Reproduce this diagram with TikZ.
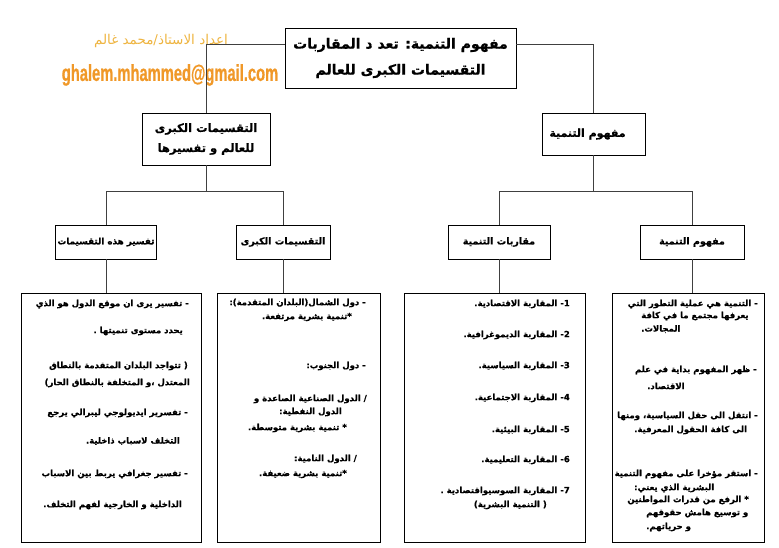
\documentclass[tikz,border=0pt]{standalone}
\usepackage{fontspec}
\setmainfont{Liberation Sans}
\newfontfamily\arabicfont[Script=Arabic, BoldFeatures={FakeBold=0.8}]{DejaVu Sans}
\newfontfamily\mailfont[FakeStretch=0.64, BoldFeatures={FakeBold=0.6}]{Liberation Sans}
\TeXXeTstate=1
\usetikzlibrary{positioning}

\definecolor{goldtxt}{RGB}{238,180,64}
\definecolor{mailorange}{RGB}{240,152,40}

\newcommand{\artext}[1]{{\arabicfont\bfseries\beginR #1\endR}}

\tikzset{
  box/.style={draw, line width=0.9pt, inner sep=0pt},
  link/.style={draw=black!75, line width=0.8pt},
  txt/.style={inner sep=0pt, font=\fontsize{8.5}{10}\selectfont}
}

\begin{document}
\begin{tikzpicture}[x=1pt, y=-1pt]

\useasboundingbox (0,0) rectangle (779,547);

% --- Title and author ---
\node[box, minimum width=231, minimum height=60, align=center,
  font=\fontsize{14}{26}\selectfont] (title) at (400.5,58)
  {\artext{مفهوم التنمية: تعد د المقاربات}\\\artext{التقسيمات الكبرى للعالم}};
\node[text=goldtxt, font=\fontsize{13.5}{13.5}\selectfont] (author) at (161,41)
  {\arabicfont\beginR اعداد الاستاذ/محمد غالم\endR};
\node[text=mailorange, font=\mailfont\bfseries\fontsize{23}{23}\selectfont] (mail) at (170,75)
  {ghalem.mhammed@gmail.com};

% --- First level ---
\node[box, minimum width=128, minimum height=52, align=center,
  font=\fontsize{11.5}{20}\selectfont] (kubra) at (206,139)
  {\artext{التقسيمات الكبرى}\\\artext{للعالم و تفسيرها}};
\node[box, minimum width=103, minimum height=42,
  font=\fontsize{11}{13}\selectfont] (mafhum) at (593.5,134)
  {\artext{مفهوم التنمية}\hspace*{12pt}};

% --- Second level ---
\node[box, minimum width=101, minimum height=34,
  font=\fontsize{8.8}{12}\selectfont] (tafsir) at (106,242)
  {\artext{تفسير هذه التقسيمات}};
\node[box, minimum width=94, minimum height=34,
  font=\fontsize{9.5}{12}\selectfont] (taqsimat) at (283,242)
  {\artext{التقسيمات الكبرى}};
\node[box, minimum width=102, minimum height=34,
  font=\fontsize{9.5}{12}\selectfont] (muqarabat) at (499,242)
  {\artext{مقاربات التنمية}};
\node[box, minimum width=104, minimum height=34,
  font=\fontsize{9.5}{12}\selectfont] (mafhumb) at (692,242)
  {\artext{مفهوم التنمية}};

% --- Third level (text boxes) ---
\node[box, minimum width=180, minimum height=249] (tafsirbox) at (111,417.5) {};
\node[box, minimum width=163, minimum height=249] (taqsimatbox) at (298.5,417.5) {};
\node[box, minimum width=181, minimum height=249] (muqarabatbox) at (494.5,417.5) {};
\node[box, minimum width=152, minimum height=249] (mafhumbox) at (688,417.5) {};

% --- Connectors ---
\draw[link] ([yshift=-17pt]title.north west) -| (kubra.north);
\draw[link] ([yshift=-17pt]title.north east) -| (mafhum.north);

\coordinate (kj) at ([yshift=-26pt]kubra.south);
\draw[link] (kubra.south) -- (kj);
\draw[link] (tafsir.north) |- (kj) -| (taqsimat.north);

\coordinate (mj) at ([yshift=-36pt]mafhum.south);
\draw[link] (mafhum.south) -- (mj);
\draw[link] (muqarabat.north) |- (mj) -| (mafhumb.north);

\foreach \a/\b in {tafsir/tafsirbox, taqsimat/taqsimatbox,
  muqarabat/muqarabatbox, mafhumb/mafhumbox}
  \draw[link] (\a.south) -- (\a.south |- \b.north);

% --- Box texts ---
\foreach \x/\y/\lbl in {189/304/{- تفسير يرى ان موقع الدول هو الذي},
  183/331/{يحدد مستوى تنميتها .},
  188/366/{( تتواجد البلدان المتقدمة بالنطاق},
  190/383/{المعتدل ،و المتخلفة بالنطاق الحار)},
  188/413/{- تفسرير ايديولوجي ليبرالي يرجع},
  180/441/{التخلف لاسباب ذاخلية.},
  188/474/{- تفسير جغرافي يربط بين الاسباب},
  182/505/{الداخلية و الخارجية لفهم التخلف.}}
  \node[txt, anchor=east] (e\y) at (\x,\y) {\artext{\lbl}};

\foreach \x/\y/\lbl in {366/303/{- دول الشمال(البلدان المتقدمة):},
  352/317/{*تنمية بشرية مرتفعة.},
  366/366/{- دول الجنوب:},
  367/399/{/ الدول الصناعية الصاعدة و},
  342/412/{الدول النفطية:},
  347/428/{* تنمية بشرية متوسطة.},
  357/459/{/ الدول النامية:},
  347/474/{*تنمية بشرية ضعيفة.}}
  \node[txt, anchor=east] (f\y) at (\x,\y) {\artext{\lbl}};

\foreach \x/\y/\lbl in {570/304/{1- المقاربة الاقتصادية.},
  570/335/{2- المقاربة الديموغرافية.},
  570/366/{3- المقاربة السياسية.},
  570/398/{4- المقاربة الاجتماعية.},
  570/430/{5- المقاربة البيئية.},
  570/460/{6- المقاربة التعليمية.},
  570/491/{7- المقاربة السوسيواقتصادية .},
  547/505/{( التنمية البشرية)}}
  \node[txt, anchor=east] (g\y) at (\x,\y) {\artext{\lbl}};

\foreach \x/\y/\an/\lbl in {758/304/east/{- التنمية هي عملية التطور التي},
  641/316/west/{يعرفها مجتمع ما في كافة},
  641/329/west/{المجالات.},
  757/370/east/{- ظهر المفهوم بداية في علم},
  647/386/west/{الاقتصاد.},
  758/416/east/{- انتقل الى حقل السياسية، ومنها},
  634/430/west/{الى كافة الحقول المعرفية.},
  758/474/east/{- استقر مؤخرا على مفهوم التنمية},
  634/488/west/{البشرية الذي يعني:},
  749/500/east/{* الرفع من قدرات المواطنين},
  646/513/west/{و توسيع هامش حقوقهم},
  646/527/west/{و حرياتهم.}}
  \node[txt, anchor=\an] (h\y) at (\x,\y) {\artext{\lbl}};

\end{tikzpicture}
\end{document}
